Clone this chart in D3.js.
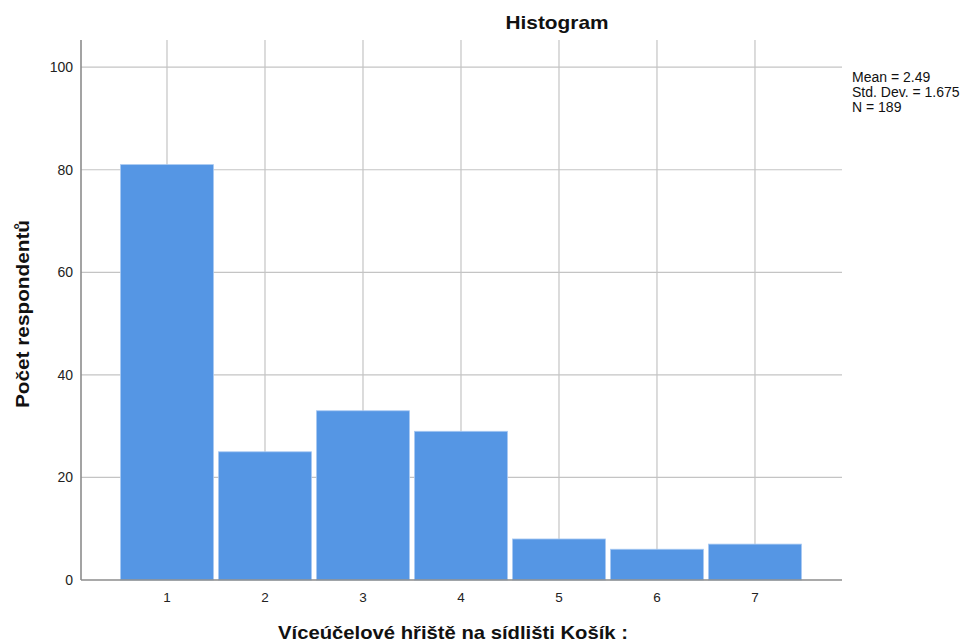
<!DOCTYPE html>
<html><head><meta charset="utf-8">
<script src="https://cdn.jsdelivr.net/npm/d3@7"></script>
<style>body{margin:0;background:#fff}svg{display:block}text{font-family:Arial,"Liberation Sans",sans-serif}</style>
</head><body>
<svg id="c" width="965" height="643"></svg>
<script>
const categories = [1, 2, 3, 4, 5, 6, 7];
const counts = [81, 25, 33, 29, 8, 6, 7];
const yTicks = [0, 20, 40, 60, 80, 100];
const statsLines = ["Mean = 2.49", "Std. Dev. = 1.675", "N = 189"];
const title = "Histogram";
const xLabel = "Víceúčelové hřiště na sídlišti Košík :";
const yLabel = "Počet respondentů";

const svg = d3.select("#c");
const L = 81, R = 842, T = 40, B = 580;
const x = d3.scaleLinear().domain([0.1224, 7.888]).range([L, R]);
const y = d3.scaleLinear().domain([0, 105.3]).range([B, T]);

// gridlines
svg.append("g").selectAll("line").data(yTicks.filter(d => d > 0)).join("line")
  .attr("x1", L).attr("x2", R).attr("y1", d => y(d)).attr("y2", d => y(d))
  .attr("stroke", "#c4c4c4").attr("stroke-width", 1.2);
svg.append("g").selectAll("line").data(categories).join("line")
  .attr("x1", d => x(d)).attr("x2", d => x(d)).attr("y1", T).attr("y2", B)
  .attr("stroke", "#c4c4c4").attr("stroke-width", 1.2);

// bars
const inset = 2.5;
svg.append("g").selectAll("rect").data(categories).join("rect")
  .attr("x", d => x(d - 0.5) + inset)
  .attr("width", d => x(d + 0.5) - x(d - 0.5) - 2 * inset)
  .attr("y", (d, i) => y(counts[i]))
  .attr("height", (d, i) => B - y(counts[i]))
  .attr("fill", "#5596e4")
  .attr("stroke", "#a9c9f2").attr("stroke-width", 0.8);

// axes lines
svg.append("line").attr("x1", L).attr("x2", L).attr("y1", T).attr("y2", B)
  .attr("stroke", "#8c8c8c").attr("stroke-width", 1.6);
svg.append("line").attr("x1", L).attr("x2", R).attr("y1", B).attr("y2", B)
  .attr("stroke", "#8c8c8c").attr("stroke-width", 1.6);

// y tick labels
svg.append("g").selectAll("text").data(yTicks).join("text")
  .attr("x", 73).attr("y", d => y(d)).attr("dy", "0.35em")
  .attr("text-anchor", "end").attr("font-size", 14).attr("fill", "#222")
  .text(d => d);
// x tick labels
svg.append("g").selectAll("text").data(categories).join("text")
  .attr("x", d => x(d)).attr("y", 597).attr("dy", "0.35em")
  .attr("text-anchor", "middle").attr("font-size", 13.5).attr("fill", "#222")
  .text(d => d);

// title
svg.append("text").attr("x", 557).attr("y", 29).attr("text-anchor", "middle")
  .attr("font-size", 18.5).attr("font-weight", "bold").attr("fill", "#111")
  .attr("textLength", 103).attr("lengthAdjust", "spacingAndGlyphs").text(title);
// x label
svg.append("text").attr("x", 453).attr("y", 639).attr("text-anchor", "middle")
  .attr("font-size", 19).attr("font-weight", "bold").attr("fill", "#111")
  .attr("textLength", 350).attr("lengthAdjust", "spacingAndGlyphs").text(xLabel);
// y label
svg.append("text").attr("transform", "translate(29,314) rotate(-90)").attr("text-anchor", "middle")
  .attr("font-size", 19).attr("font-weight", "bold").attr("fill", "#111")
  .attr("textLength", 188).attr("lengthAdjust", "spacingAndGlyphs").text(yLabel);

// stats
svg.append("g").selectAll("text").data(statsLines).join("text")
  .attr("x", 852).attr("y", (d, i) => 81.5 + i * 15)
  .attr("font-size", 14).attr("fill", "#111").text(d => d);
</script>
</body></html>
